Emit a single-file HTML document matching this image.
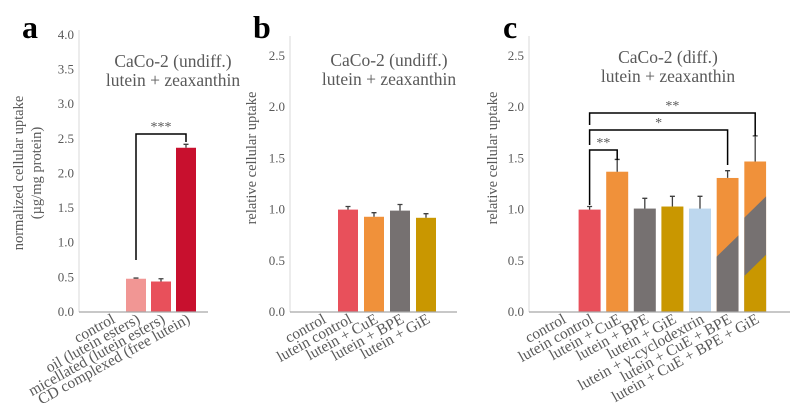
<!DOCTYPE html>
<html><head><meta charset="utf-8"><style>
body{margin:0;background:#fff}
svg{display:block;font-family:"Liberation Serif",serif}
</style></head><body>
<svg id="fig" width="796" height="419" viewBox="0 0 796 419"></svg>
<script>
// Panel a
const catsA = ["control","oil (lutein esters)","micellated (lutein esters)","CD complexed (free lutein)"];
const valsA = [0, 0.48, 0.44, 2.37];
const errsA = [0, 0.01, 0.04, 0.05];
const ticksA = ["0.0","0.5","1.0","1.5","2.0","2.5","3.0","3.5","4.0"];
// Panel b
const catsB = ["control","lutein control","lutein + CuE","lutein + BPE","lutein + GiE"];
const valsB = [0, 1.00, 0.93, 0.99, 0.92];
const errsB = [0, 0.03, 0.04, 0.06, 0.04];
// Panel c
const catsC = ["control","lutein control","lutein + CuE","lutein + BPE","lutein + GiE","lutein + γ-cyclodextrin","lutein + CuE + BPE","lutein + CuE + BPE + GiE"];
const valsC = [0, 1.00, 1.37, 1.01, 1.03, 1.01, 1.31, 1.47];
const errsC = [0, 0.03, 0.12, 0.10, 0.10, 0.12, 0.07, 0.25];
const ticksBC = ["0.0","0.5","1.0","1.5","2.0","2.5"];

const NS="http://www.w3.org/2000/svg";
const svg=document.getElementById('fig');
function mk(tag,attrs,parent){const e=document.createElementNS(NS,tag);for(const k in attrs)e.setAttribute(k,attrs[k]);(parent||svg).appendChild(e);return e;}
function txt(s,attrs,parent){const e=mk('text',attrs,parent);e.textContent=s;return e;}

const COL={pink:"#f19694",red:"#e8505b",dred:"#c8102e",orange:"#f0913a",gray:"#767171",gold:"#c99700",blue:"#bdd7ee"};
const defs=mk('defs',{});

function panel(o){
  const g=mk('g',{});
  
  
  const y=v=>o.y0-v*o.scale;
  const x=i=>o.x0+o.step*i;
  const ya=mk('line',{x1:o.axX,x2:o.axX,y1:o.axTop,y2:o.y0,stroke:"#d9d9d9","stroke-width":1},g);
  
  o.ticks.forEach(t=>{
    const e=txt(t,{x:o.axX-5,y:y(parseFloat(t))+4,"text-anchor":"end","font-size":13,fill:"#595959"},g);
    
  });
  o.vals.forEach((v,i)=>{
    if(v<=0)return;
    const bx=x(i)-o.bw/2, by=y(v), bh=o.y0-by;
    const col=o.colors[i];
    if(Array.isArray(col)){
      const id='clip'+o.name+i;
      const cp=mk('clipPath',{id:id},defs);
      mk('rect',{x:bx,y:by,width:o.bw,height:bh},cp);
      const bg=mk('g',{"clip-path":"url(#"+id+")"},g);
      
      
      mk('rect',{x:bx,y:by,width:o.bw,height:bh,fill:col[0]},bg);
      col.slice(1).forEach((c,k)=>{
        const lv=o.splits[i][k];
        const yl=y(lv), yr=y(lv+0.21);
        mk('polygon',{points:`${bx},${yl} ${bx+o.bw},${yr} ${bx+o.bw},${o.y0} ${bx},${o.y0}`,fill:c},bg);
      });
    } else {
      const r=mk('rect',{x:bx,y:by,width:o.bw,height:bh,fill:col},g);
      
      
    }
    const et=y(v+o.errs[i]);
    const eb=mk('path',{d:`M${x(i)},${by}V${et}M${x(i)-2.5},${et}H${x(i)+2.5}`,stroke:"#404040","stroke-width":1.3,fill:"none"},g);
    
  });
  const xa=mk('line',{x1:o.axX,x2:o.axEnd,y1:o.y0,y2:o.y0,stroke:"#a6a6a6","stroke-width":1.3},g);
  
  o.cats.forEach((c,i)=>{
    const lx=x(i)+5, ly=o.y0+10;
    const e=txt(c,{x:lx,y:ly,"text-anchor":"end","font-size":15.5,fill:"#595959",transform:`rotate(-29 ${lx} ${ly})`},g);
    
  });
  return {x,y,g};
}

const A=panel({name:'panel-a',cats:catsA,vals:valsA,errs:errsA,ticks:ticksA,colors:[null,COL.pink,COL.red,COL.dred],
  x0:111,step:25,bw:20,y0:312,scale:69.3,axX:79,axTop:30,axEnd:208});
const B=panel({name:'panel-b',cats:catsB,vals:valsB,errs:errsB,ticks:ticksBC,colors:[null,COL.red,COL.orange,COL.gray,COL.gold],
  x0:322,step:26,bw:20,y0:312,scale:102.4,axX:290,axTop:36,axEnd:457});
const C=panel({name:'panel-c',cats:catsC,vals:valsC,errs:errsC,ticks:ticksBC,colors:[null,COL.red,COL.orange,COL.gray,COL.gold,COL.blue,[COL.orange,COL.gray],[COL.orange,COL.gray,COL.gold]],
  splits:{6:[0.54],7:[0.92,0.35]},
  x0:562,step:27.6,bw:22,y0:312,scale:102.4,axX:529,axTop:36,axEnd:790});

function bracket(P,i1,i2,yb,yl,yr,label,g){
  const x1=P.x(i1),x2=P.x(i2);
  const p=mk('path',{d:`M${x1},${yl}V${yb}H${x2}V${yr}`,stroke:"#000","stroke-width":1.5,fill:"none"},g);
  
  const t=txt(label,{x:(x1+x2)/2,y:yb-3,"text-anchor":"middle","font-size":14,fill:"#595959"},g);
  
}
bracket(A,1,3,134,260,142,"***",A.g);
bracket(C,1,7,113,125,136,"**",C.g);
bracket(C,1,6,130,145,165,"*",C.g);
bracket(C,1,2,150,205,160,"**",C.g);

function title(l1,l2,cx,y1,g){
  const t=txt('',{x:cx,y:y1,"text-anchor":"middle","font-size":17.5,fill:"#595959"},g);
  
  const a=mk('tspan',{x:cx},t);a.textContent=l1;
  const b=mk('tspan',{x:cx,dy:19},t);b.textContent=l2;
}
title("CaCo-2 (undiff.)","lutein + zeaxanthin",173,67,A.g);
title("CaCo-2 (undiff.)","lutein + zeaxanthin",389,66,B.g);
title("CaCo-2 (diff.)","lutein + zeaxanthin",668,63,C.g);

[["a",22,38,A.g],["b",253,38,B.g],["c",503,38,C.g]].forEach(([s,x,y,g])=>{
  const e=txt(s,{x:x,y:y,"font-size":32,"font-weight":"bold",fill:"#000"},g);
  
});

function ytitle(lines,x,cy,g){
  const t=txt('',{x:0,y:0,"text-anchor":"middle","font-size":14.5,fill:"#595959",transform:`translate(${x},${cy}) rotate(-90)`},g);
  
  lines.forEach((l,k)=>{const s=mk('tspan',{x:0,dy:k?18:0},t);s.textContent=l;});
}
ytitle(["normalized cellular uptake","(µg/mg protein)"],23,173,A.g);
ytitle(["relative cellular uptake"],256,158,B.g);
ytitle(["relative cellular uptake"],497,158,C.g);
</script>
</body></html>
